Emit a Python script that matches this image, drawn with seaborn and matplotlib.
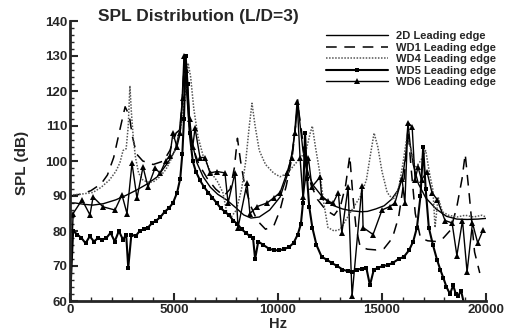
import numpy as np
import pandas as pd
import matplotlib
matplotlib.use("Agg")
import matplotlib.pyplot as plt
import seaborn as sns
from matplotlib.ticker import MultipleLocator

# ---------------- data ----------------
d2_hz = [0, 250, 700, 1100, 1600, 2200, 2700, 3200, 3700, 4200, 4700, 5050, 5250, 5380, 5480,
         5580, 5700, 5800, 6100, 6400, 6750, 7100, 7550, 8000, 8350, 8700, 9100, 9600, 10100,
         10450, 10700, 10850, 10950, 11050, 11200, 11400, 11700, 12100, 12650, 13100, 13500,
         14000, 14300, 14700, 15100, 15450, 15750, 16000, 16150, 16250, 16350, 16500, 16750,
         17100, 17600, 18100, 18600, 19100, 19600, 20000]
d2_db = [88, 88, 87.6, 87.4, 87.8, 88.9, 90.2, 91.7, 93.4, 95.5, 99.5, 103, 108, 116, 130,
         122, 112, 107, 99.5, 95.5, 92.5, 90.5, 88.8, 86.5, 84.6, 83.7, 84, 86, 89.7,
         96, 103, 110, 117.5, 111, 103, 97, 93, 90, 87.3, 86.3, 85.8,
         85.5, 85.6, 86.3, 87.2, 89, 91.5, 96, 102, 111, 105, 99, 93.5,
         89.5, 86.3, 84.2, 83.4, 83.3, 83.4, 83.6]

wd1_hz = [0, 500, 1000, 1500, 1800, 2100, 2400, 2650, 2850, 3000, 3200, 3500, 4000, 4500, 4800,
          5100, 5300, 5420, 5520, 5620, 5750, 5900, 6200, 6600, 7000, 7400, 7700, 7900, 8050,
          8200, 8400, 8700, 9000, 9400, 9800, 10100, 10400, 10700, 10950, 11100, 11300, 11600,
          11900, 12300, 12700, 13000, 13250, 13450, 13600, 13750, 13950, 14300, 14700, 15100,
          15500, 15800, 16050, 16250, 16400, 16600, 16850, 17200, 17600, 17950, 18300, 18600,
          18850, 19000, 19200, 19450, 19700]
wd1_db = [90, 90.5, 91.5, 93.5, 96, 101, 109, 115.5, 113, 107, 102, 100, 99, 100, 103,
          108, 109, 120, 130, 122, 110, 104, 99, 95, 92, 90, 92, 98, 106.5,
          100, 93, 87, 83, 80.5, 81.5, 86, 93, 102, 116, 110, 100, 93,
          89, 86, 84.5, 87, 93, 101.5, 90, 81, 75.5, 74.8, 74.6, 75,
          78, 84, 94, 109, 98, 85, 78, 77.2, 77, 78, 80.3, 87,
          95, 102, 90, 74, 68]

wd4_hz = [0, 500, 1100, 1500, 1900, 2200, 2400, 2550, 2700, 2800, 2880, 2950, 3050, 3150, 3300,
          3500, 3700, 4000, 4300, 4600, 4800, 5000, 5200, 5400, 5550, 5680, 5800, 5950, 6150,
          6400, 6750, 7100, 7350, 7550, 7750, 8000, 8250, 8450, 8620, 8750, 8900, 9100, 9400,
          9800, 10100, 10450, 10800, 11100, 11350, 11550, 11650, 11800, 12000, 12200, 12400,
          12700, 13000, 13300, 13650, 13950, 14250, 14450, 14620, 14800, 15000, 15250, 15530,
          15800, 16000, 16200, 16400, 16600, 16850, 17100, 17300, 17450, 17550, 17700, 17900,
          18200, 18600, 19000, 19400, 19800, 20000]
wd4_db = [90.3, 90.5, 91, 92.5, 94.6, 97, 99.5, 103, 103.5, 110, 121.5, 114, 106, 101, 96.5,
          94.6, 94, 94, 95.4, 97.5, 99.7, 102.5, 106, 112, 120, 128, 124, 115, 107,
          101.5, 97, 94, 91, 85, 84, 86, 92, 100, 110, 116.5, 110, 103, 99,
          96.5, 95.5, 96.5, 99, 101, 103, 108, 110, 104, 97, 88, 81,
          80, 80.5, 83.5, 87, 89.7, 94.6, 102, 108, 104, 97, 91, 88.9,
          92, 99, 107, 103, 98, 100, 103, 96, 91.7, 81, 89.7, 85.5,
          84.5, 84, 84.5, 84, 84.5, 84]

wd5_hz = [0, 150, 350, 550, 750, 950, 1150, 1350, 1550, 1750, 1950, 2150, 2350, 2550, 2700,
          2800, 2950, 3150, 3350, 3550, 3750, 3950, 4150, 4350, 4550, 4750, 4950, 5150, 5300,
          5400, 5480, 5560, 5650, 5750, 5900, 6050, 6250, 6450, 6650, 6850, 7050, 7250, 7450,
          7650, 7850, 8050, 8250, 8450, 8650, 8800, 8900, 9050, 9300, 9550, 9800, 10050, 10300,
          10550, 10750, 10950, 11100, 11200, 11300, 11400, 11500, 11650, 11850, 12100, 12350,
          12600, 12850, 13100, 13350, 13550, 13800, 14050, 14250, 14420, 14600, 14800, 15050,
          15300, 15550, 15800, 16050, 16300, 16500, 16680, 16850, 16980, 17100, 17250, 17450,
          17650, 17800, 17950, 18100, 18270, 18420, 18550, 18670, 18800, 18950]
wd5_db = [60, 80, 79, 78, 76.5, 78.5, 77, 78, 77.5, 78, 79.5, 77, 80, 77.5, 79,
          69.5, 79, 78.5, 80, 80.5, 81, 82.3, 83, 84, 85.5, 86.5, 88, 91, 95,
          102, 112, 130, 122, 108, 100, 97, 94.5, 92.5, 91, 89.5, 88, 86.5, 85.5,
          84.5, 83, 82, 80.5, 79.5, 78.5, 78, 72, 77, 76, 75, 74.5, 74.5, 74.8,
          75.5, 76.6, 79, 82, 88, 108, 95, 87, 81, 76, 72.6, 71.8,
          70.8, 70, 69, 68.5, 68.3, 69, 69.2, 69.4, 64.5, 68.8, 69.5, 70,
          70.3, 71, 72, 72.6, 74.5, 77, 81, 90, 104, 92, 81, 76,
          71.7, 69, 66.6, 64, 62, 64.5, 62, 61.5, 63, 59]

wd6_hz = [0, 150, 580, 960, 1110, 1590, 2160, 2500, 2740, 2980, 3220, 3510, 3750, 4090, 4330,
          4600, 4800, 4950, 5140, 5300, 5420, 5500, 5600, 5750, 5900, 6010, 6250, 6490, 6730,
          7070, 7450, 7600, 7930, 8080, 8510, 8650, 9000, 9470, 9800, 10100, 10430, 10650,
          10800, 10920, 11060, 11200, 11460, 11630, 12020, 12100, 12400, 12650, 12900, 13070,
          13370, 13560, 14040, 14090, 14570, 15000, 15380, 15620, 15960, 16100, 16250, 16450,
          16590, 16730, 16900, 17160, 17400, 17650, 18030, 18370, 18600, 18870, 19090, 19350,
          19600, 19860]
wd6_db = [60, 85, 88.9, 84.6, 89.7, 86.9, 86, 90.3, 85, 99.4, 89.4, 98.3, 92.6, 98, 96.5,
          100, 101.5, 108, 104, 108, 118, 130, 126, 112, 104, 109.4, 101, 101, 96.6,
          97, 96.6, 88, 96.6, 81, 93.7, 85, 87, 88, 89.5, 91, 96.6, 101,
          108, 117, 101, 89.7, 101, 92.6, 95.4, 89.7, 88.5, 88, 91, 79.4,
          92.6, 61.4, 93, 81, 79, 86, 87, 88, 95, 88, 111, 109.7,
          94.6, 98.3, 94.6, 97, 91, 89, 83, 82.3, 73, 83, 68.3, 82.3,
          76.6, 80.3]

series_labels = ["2D Leading edge", "WD1 Leading edge", "WD4 Leading edge",
                 "WD5 Leading edge", "WD6 Leading edge"]
x_ticks = [0, 5000, 10000, 15000, 20000]
y_ticks = [60, 70, 80, 90, 100, 110, 120, 130, 140]

# ---------------- plotting ----------------
sns.set_style("ticks")
plt.rcParams["font.family"] = ["Liberation Sans", "DejaVu Sans"]
plt.rcParams["font.weight"] = "bold"

fig = plt.figure(figsize=(5.12, 3.31), dpi=100)
ax = fig.add_axes([70 / 512, 1 - 301 / 331, (486 - 70) / 512, (301 - 21) / 331])

styles = [
    dict(color="black", linewidth=1.0, linestyle="-"),
    dict(color="black", linewidth=1.1, linestyle=(0, (7, 5))),
    dict(color="#555555", linewidth=1.1, linestyle=(0, (1, 1))),
    dict(color="black", linewidth=1.5, linestyle="-", marker="s", markersize=3.2,
         markeredgewidth=0),
    dict(color="black", linewidth=1.0, linestyle="-", marker="^", markersize=4.2,
         markeredgewidth=0),
]
data = [(d2_hz, d2_db), (wd1_hz, wd1_db), (wd4_hz, wd4_db), (wd5_hz, wd5_db), (wd6_hz, wd6_db)]

for (hz, db), lab, st in zip(data, series_labels, styles):
    df = pd.DataFrame({"Hz": hz, "SPL": db})
    sns.lineplot(data=df, x="Hz", y="SPL", ax=ax, label=lab, estimator=None,
                 sort=False, **st)

ax.set_xlim(0, 20000)
ax.set_ylim(60, 140)
ax.set_xticks(x_ticks)
ax.set_yticks(y_ticks)
ax.xaxis.set_minor_locator(MultipleLocator(1000))
ax.yaxis.set_minor_locator(MultipleLocator(2))
ax.tick_params(axis="both", which="major", direction="in", length=6, width=1.5,
               labelsize=9.5, pad=2)
ax.tick_params(axis="both", which="minor", direction="in", length=3, width=1)
for lbl in ax.get_xticklabels() + ax.get_yticklabels():
    lbl.set_fontweight("bold")

for s in ["top", "right"]:
    ax.spines[s].set_visible(False)
for s in ["left", "bottom"]:
    ax.spines[s].set_linewidth(2)

ax.set_xlabel("")
ax.set_ylabel("")
fig.text(278 / 512, 1 - 324 / 331, "Hz", fontsize=10.5, fontweight="bold",
         ha="center", va="center")
fig.text(22 / 512, 1 - 163 / 331, "SPL (dB)", fontsize=11, fontweight="bold",
         ha="center", va="center", rotation=90)

fig.text(98 / 512, 1 - 16 / 331, "SPL Distribution (L/D=3)", fontsize=12.5,
         fontweight="bold", ha="left", va="center")

leg = ax.legend(loc="upper left", bbox_to_anchor=(326 / 512, 1 - 31 / 331),
                bbox_transform=fig.transFigure, frameon=False,
                fontsize=8, handlelength=5.6, handletextpad=0.7, labelspacing=0.14,
                borderaxespad=0.0, borderpad=0.0)
for t in leg.get_texts():
    t.set_fontweight("bold")

fig.savefig("out.png", dpi=100)
